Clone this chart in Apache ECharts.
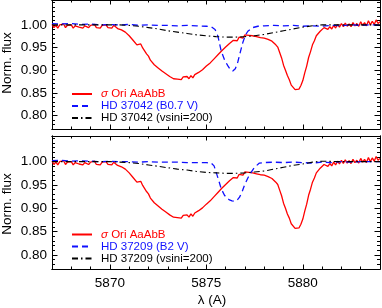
<!DOCTYPE html>
<html><head><meta charset="utf-8">
<script src="https://cdn.jsdelivr.net/npm/echarts@6/dist/echarts.min.js"></script>
<style>html,body{margin:0;padding:0;background:#fff}#c{width:382px;height:308px}</style>
</head><body><div id="c"></div>
<script>
// ---- data ----
const lambdaRed = [
5867.0,5867.1,5867.2,5867.3,5867.4,5867.5,5867.6,5867.7,5867.8,5867.9,
5868.0,5868.1,5868.2,5868.3,5868.4,5868.5,5868.6,5868.7,5868.8,5868.9,
5869.0,5869.1,5869.2,5869.3,5869.4,5869.5,5869.6,5869.7,5869.8,5869.9,
5870.0,5870.1,5870.2,5870.3,5870.4,5870.5,5870.6,5870.7,5870.8,5870.9,
5871.0,5871.1,5871.2,5871.3,5871.4,5871.5,5871.6,5871.7,5871.8,5871.9,
5872.0,5872.1,5872.2,5872.3,5872.4,5872.5,5872.6,5872.7,5872.8,5872.9,
5873.0,5873.1,5873.2,5873.3,5873.4,5873.5,5873.6,5873.7,5873.8,5873.9,
5874.0,5874.1,5874.2,5874.3,5874.4,5874.5,5874.6,5874.7,5874.8,5874.9,
5875.0,5875.1,5875.2,5875.3,5875.4,5875.5,5875.6,5875.7,5875.8,5875.9,
5876.0,5876.1,5876.2,5876.3,5876.4,5876.5,5876.6,5876.7,5876.8,5876.9,
5877.0,5877.1,5877.2,5877.3,5877.4,5877.5,5877.6,5877.7,5877.8,5877.9,
5878.0,5878.1,5878.2,5878.3,5878.4,5878.5,5878.6,5878.7,5878.8,5878.9,
5879.0,5879.1,5879.2,5879.3,5879.4,5879.5,5879.6,5879.7,5879.8,5879.9,
5880.0,5880.1,5880.2,5880.3,5880.4,5880.5,5880.6,5880.7,5880.8,5880.9,
5881.0,5881.1,5881.2,5881.3,5881.4,5881.5,5881.6,5881.7,5881.8,5881.9,
5882.0,5882.1,5882.2,5882.3,5882.4,5882.5,5882.6,5882.7,5882.8,5882.9,
5883.0,5883.1,5883.2,5883.3,5883.4,5883.5,5883.6,5883.7,5883.8,5883.9,
5884.0];
const sigmaOri = [
1.001,0.994,0.999,0.993,1.000,0.996,1.002,0.994,0.999,0.995,
1.000,0.993,0.998,1.002,0.995,0.999,0.993,0.998,1.001,0.994,
0.999,0.995,1.001,0.994,0.998,0.993,0.999,0.995,1.000,0.994,
0.998,0.993,0.999,0.995,0.992,0.996,0.989,0.990,0.984,0.982,
0.976,0.974,0.966,0.963,0.956,0.954,0.958,0.949,0.947,0.936,
0.931,0.922,0.918,0.912,0.909,0.905,0.902,0.898,0.897,0.892,
0.891,0.886,0.886,0.881,0.885,0.880,0.884,0.879,0.885,0.881,
0.886,0.881,0.888,0.883,0.890,0.888,0.895,0.894,0.901,0.901,
0.909,0.910,0.916,0.918,0.925,0.928,0.934,0.936,0.943,0.945,
0.951,0.954,0.959,0.961,0.966,0.967,0.965,0.973,0.974,0.971,
0.978,0.976,0.977,0.978,0.976,0.979,0.974,0.978,0.972,0.975,
0.971,0.972,0.968,0.969,0.964,0.963,0.956,0.951,0.939,0.927,
0.911,0.900,0.888,0.879,0.867,0.863,0.857,0.857,0.858,0.866,
0.877,0.894,0.909,0.928,0.941,0.956,0.965,0.976,0.979,0.986,
0.989,0.994,0.991,0.990,0.996,0.991,0.999,0.993,1.001,0.995,
1.003,0.996,1.004,0.997,1.002,0.996,1.005,0.998,1.003,0.997,
1.007,0.999,1.005,0.998,1.009,1.000,1.008,1.001,1.011,1.003,
1.007];

const lambdaB1 = [5867.0,5867.5,5868.0,5868.5,5869.0,5869.5,5870.0,5870.5,5871.0,5871.5,5872.0,5872.5,5873.0,5873.5,5874.0,5874.5,5875.0,5875.25,5875.45,5875.6,5875.77,5875.95,5876.11,5876.25,5876.37,5876.5,5876.63,5876.76,5876.89,5877.02,5877.15,5877.4,5877.67,5878.0,5878.5,5879.0,5879.5,5880.0,5880.5,5881.0,5881.5,5882.0,5882.5,5883.0,5883.5,5884.0];
const hd37042 = [1.003,1.002,1.003,1.001,1.002,1.000,1.001,1.000,1.001,0.999,1.000,0.999,0.999,0.998,0.999,0.998,0.997,0.996,0.990,0.975,0.942,0.922,0.910,0.901,0.898,0.903,0.918,0.940,0.961,0.977,0.986,0.994,0.997,0.998,0.999,0.998,0.999,0.997,0.998,0.997,0.999,0.998,1.000,0.999,1.000,1.000];

const lambdaB2 = [5867.0,5867.5,5868.0,5868.5,5869.0,5869.5,5870.0,5870.5,5871.0,5871.5,5872.0,5872.5,5873.0,5873.5,5874.0,5874.5,5875.0,5875.25,5875.4,5875.51,5875.64,5875.77,5875.94,5876.07,5876.2,5876.33,5876.46,5876.59,5876.72,5876.85,5876.97,5877.15,5877.32,5877.5,5877.75,5878.0,5878.5,5879.0,5879.5,5880.0,5880.5,5881.0,5881.5,5882.0,5882.5,5883.0,5883.5,5884.0];
const hd37209 = [1.002,1.003,1.001,1.002,1.001,1.000,1.001,1.000,1.000,0.999,1.000,0.999,0.999,0.999,0.998,0.998,0.998,0.997,0.991,0.977,0.960,0.942,0.928,0.922,0.918,0.916,0.915,0.917,0.924,0.935,0.949,0.965,0.977,0.988,0.997,0.998,0.999,0.998,0.999,0.998,0.997,0.999,0.998,1.000,0.999,1.000,1.000,1.000];

const lambdaK = [5867.0,5868.0,5869.0,5870.0,5870.5,5871.0,5871.5,5872.0,5872.5,5873.0,5873.5,5874.0,5874.5,5875.0,5875.5,5876.0,5876.5,5877.0,5877.5,5878.0,5878.5,5879.0,5879.5,5880.0,5880.5,5881.0,5882.0,5883.0,5884.0];
const hd37042rot = [1.000,1.000,1.000,1.000,1.000,0.999,0.997,0.994,0.991,0.987,0.984,0.981,0.978,0.976,0.974,0.973,0.973,0.974,0.976,0.979,0.983,0.987,0.991,0.995,0.998,1.000,1.000,1.000,1.000];
const hd37209rot = [1.000,1.000,1.000,1.000,0.999,0.998,0.996,0.993,0.990,0.987,0.984,0.982,0.979,0.977,0.976,0.975,0.975,0.976,0.978,0.980,0.984,0.988,0.992,0.995,0.999,1.001,1.000,1.000,1.000];

const xTickValues = [5870, 5875, 5880];
const yTickValues = [0.80, 0.85, 0.90, 0.95, 1.00];
const yTitle = 'Norm. flux';
const nameSigma = 'σ Ori AaAbB';
const panelNames = [
  ['HD 37042 (B0.7 V)', 'HD 37042 (vsini=200)'],
  ['HD 37209 (B2 V)', 'HD 37209 (vsini=200)']
];

// ---- layout / style ----
const FONT = '"Liberation Sans", Arial, Helvetica, sans-serif';
const X_MIN = 5867, X_MAX = 5884, Y_MIN = 0.77, Y_MAX = 1.055;
const RED = '#ff0000', BLUE = '#1010ff', BLACK = '#000000';
const grids = [
  {left: 52, right: 2, top: -4, height: 133},
  {left: 52, right: 2, top: 136, height: 134}
];

function xAxesFor(g) {
  const base = {type: 'value', gridIndex: g, min: X_MIN, max: X_MAX,
    splitLine: {show: false},
    axisLine: {show: true, onZero: false, lineStyle: {color: BLACK, width: 1}}};
  const minor = {inside: true, length: 2.5, lineStyle: {color: BLACK, width: 1}};
  const major = {inside: true, length: 4.5, customValues: xTickValues, lineStyle: {color: BLACK, width: 1}};
  return [
    Object.assign({}, base, {position: 'bottom', interval: 1, axisTick: minor, axisLabel: {show: false}}),
    Object.assign({}, base, {position: 'bottom', axisTick: major,
      axisLabel: {show: g === 1, customValues: xTickValues, margin: 7, color: BLACK, fontFamily: FONT, fontSize: 13.5,
        formatter: v => String(Math.round(v))},
      name: g === 1 ? 'λ (A)' : '', nameLocation: 'middle', nameGap: 24, nameMoveOverlap: false,
      nameTextStyle: {color: BLACK, fontFamily: FONT, fontSize: 13.5, padding: [0, 8, 0, 0]}}),
    Object.assign({}, base, {position: 'top', interval: 1, axisTick: minor, axisLabel: {show: false}}),
    Object.assign({}, base, {position: 'top', axisTick: major, axisLabel: {show: false}})
  ];
}
function yAxesFor(g) {
  const base = {type: 'value', gridIndex: g, min: Y_MIN, max: Y_MAX,
    splitLine: {show: false},
    axisLine: {show: true, onZero: false, lineStyle: {color: BLACK, width: 1}}};
  const minor = {inside: true, length: 3, lineStyle: {color: BLACK, width: 1}};
  const major = {inside: true, length: 5.5, customValues: yTickValues, lineStyle: {color: BLACK, width: 1}};
  return [
    Object.assign({}, base, {position: 'left', interval: 0.01, axisTick: minor, axisLabel: {show: false}}),
    Object.assign({}, base, {position: 'left', axisTick: major,
      axisLabel: {show: true, customValues: yTickValues, margin: 5, color: BLACK, fontFamily: FONT, fontSize: 13.5,
        formatter: v => Number(v).toFixed(2)}}),
    Object.assign({}, base, {position: 'right', interval: 0.01, axisTick: minor, axisLabel: {show: false}}),
    Object.assign({}, base, {position: 'right', axisTick: major, axisLabel: {show: false}})
  ];
}

function zip(xs, ys) { return xs.map((x, i) => [x, ys[i]]); }

const series = [];
const blueData = [zip(lambdaB1, hd37042), zip(lambdaB2, hd37209)];
const blackData = [zip(lambdaK, hd37042rot), zip(lambdaK, hd37209rot)];
for (let g = 0; g < 2; g++) {
  const ax = g * 4;
  series.push({type: 'line', name: nameSigma, xAxisIndex: ax, yAxisIndex: ax, data: zip(lambdaRed, sigmaOri),
    symbol: 'none', lineStyle: {color: RED, width: 1.3}, itemStyle: {color: RED}, z: 2, animation: false});
  series.push({type: 'line', name: panelNames[g][0], xAxisIndex: ax, yAxisIndex: ax, data: blueData[g],
    symbol: 'none', lineStyle: {color: BLUE, width: 1.3, type: [6, 4]}, itemStyle: {color: BLUE}, z: 3, animation: false});
  series.push({type: 'line', name: panelNames[g][1], xAxisIndex: ax, yAxisIndex: ax, data: blackData[g],
    symbol: 'none', lineStyle: {color: BLACK, width: 1.1, type: [6, 3, 1.5, 3]}, itemStyle: {color: BLACK}, z: 4, animation: false});
}

function legendFor(g, top) {
  return {
    orient: 'vertical', left: 71, top: top, padding: 0, itemGap: 0, itemWidth: 20, itemHeight: 1,
    selectedMode: false, align: 'left',
    itemStyle: {color: 'rgba(0,0,0,0)', borderWidth: 0, borderColor: 'rgba(0,0,0,0)'},
    textStyle: {fontFamily: FONT, fontSize: 11.5, lineHeight: 11.5, padding: [0, 0, 0, 4],
      rich: {i: {fontStyle: 'italic', color: RED, fontFamily: FONT, fontSize: 11.5, lineHeight: 11.5}}},
    formatter: n => n === nameSigma ? '{i|σ} Ori AaAbB' : n,
    data: [
      {name: nameSigma, textStyle: {color: RED}},
      {name: panelNames[g][0], textStyle: {color: BLUE}},
      {name: panelNames[g][1], textStyle: {color: BLACK}}
    ]
  };
}

function yTitleAt(cy) {
  return {type: 'text', x: 7, y: cy, rotation: Math.PI / 2,
    style: {text: yTitle, fill: BLACK, font: '13.5px ' + FONT, align: 'center', verticalAlign: 'middle'}};
}

const chart = echarts.init(document.getElementById('c'), null, {renderer: 'canvas'});
chart.setOption({
  animation: false,
  backgroundColor: '#ffffff',
  grid: grids,
  xAxis: xAxesFor(0).concat(xAxesFor(1)),
  yAxis: yAxesFor(0).concat(yAxesFor(1)),
  legend: [legendFor(0, 88), legendFor(1, 228.5)],
  graphic: [yTitleAt(63), yTitleAt(204)],
  series: series
});
</script></body></html>
